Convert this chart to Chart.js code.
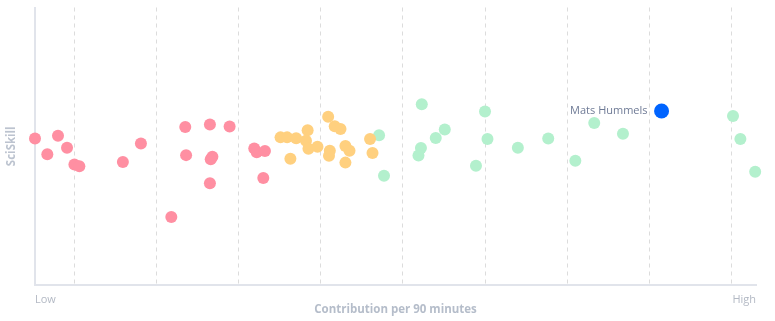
<!DOCTYPE html>
<html>
<head>
<meta charset="utf-8">
<script src="https://cdn.jsdelivr.net/npm/chart.js@4.4.1/dist/chart.umd.min.js"></script>
<style>
  html, body { margin: 0; padding: 0; background: #ffffff; }
  #wrap { width: 775px; height: 321px; position: relative; }
</style>
</head>
<body>
<div id="wrap"><canvas id="c"></canvas></div>
<script>
// ---- Data (x = contribution per 90 minutes, y = SciSkill) ----
const xTitle = 'Contribution per 90 minutes';
const yTitle = 'SciSkill';
const xTickLabels = ['Low', 'High'];
const xMin = 5.2, xMax = 93.0;
const gridValues = [10, 20, 30, 40, 50, 60, 70, 80, 90];

const lowX  = [5.2, 6.7, 8.0, 9.1, 10.0, 10.6, 15.9, 18.1, 23.5, 23.6, 26.5, 28.9, 26.8, 26.6, 26.5, 21.8, 31.9, 32.2, 33.2, 33.0];
const lowY  = [52.8, 47.1, 53.8, 49.5, 43.4, 42.8, 44.3, 51.0, 56.9, 46.8, 57.8, 57.1, 46.2, 45.3, 36.7, 24.5, 49.2, 47.8, 48.3, 38.6];

const midX  = [35.1, 35.9, 37.0, 38.4, 38.2, 38.5, 39.6, 36.3, 40.9, 41.7, 42.4, 41.1, 41.0, 43.0, 43.5, 43.0, 46.0, 46.3];
const midY  = [53.2, 53.2, 52.9, 55.8, 52.0, 49.1, 49.8, 45.5, 60.6, 57.2, 56.2, 48.4, 46.6, 50.1, 48.4, 44.1, 52.6, 47.6];

const highX = [47.1, 47.7, 52.3, 52.2, 51.9, 54.0, 55.1, 60.0, 60.3, 58.9, 64.0, 67.7, 71.0, 73.3, 76.8, 90.2, 91.1, 92.9];
const highY = [54.0, 39.4, 65.1, 49.4, 46.7, 53.0, 56.0, 62.5, 52.6, 43.0, 49.5, 52.8, 44.8, 58.4, 54.5, 60.9, 52.6, 40.8];

const playerName = 'Mats Hummels';
const playerX = [81.5];
const playerY = [62.7];

const toPts = (xs, ys) => xs.map((x, i) => ({ x: x, y: ys[i] }));

const labelPlugin = {
  id: 'playerLabel',
  afterDatasetsDraw(chart) {
    const meta = chart.getDatasetMeta(3);
    const el = meta.data[0];
    if (!el) return;
    const ctx = chart.ctx;
    ctx.save();
    ctx.font = '11px "Open Sans"';
    ctx.fillStyle = '#6f7b96';
    ctx.textAlign = 'right';
    ctx.textBaseline = 'middle';
    ctx.fillText(playerName, el.x - 14, el.y);
    ctx.restore();
  }
};

new Chart(document.getElementById('c'), {
  type: 'scatter',
  data: {
    datasets: [
      { data: toPts(lowX, lowY), backgroundColor: '#ff8fa2', pointRadius: 6, pointHoverRadius: 6, borderWidth: 0, clip: false },
      { data: toPts(midX, midY), backgroundColor: '#ffd07f', pointRadius: 6, pointHoverRadius: 6, borderWidth: 0, clip: false },
      { data: toPts(highX, highY), backgroundColor: '#b3f0cd', pointRadius: 6, pointHoverRadius: 6, borderWidth: 0, clip: false },
      { data: toPts(playerX, playerY), backgroundColor: '#0064ff', pointRadius: 7.5, pointHoverRadius: 7.5, borderWidth: 0, clip: false }
    ]
  },
  options: {
    responsive: true,
    maintainAspectRatio: false,
    animation: false,
    layout: { padding: { top: 6, right: 19, bottom: 0, left: 0 } },
    plugins: { legend: { display: false }, tooltip: { enabled: false } },
    scales: {
      x: {
        type: 'linear',
        min: xMin,
        max: xMax,
        afterBuildTicks(scale) {
          scale.ticks = [{ value: xMin }].concat(gridValues.map(v => ({ value: v })), [{ value: xMax }]);
        },
        afterFit(scale) { scale.height = 36; },
        border: { display: true, color: '#e1e4eb', width: 2, dash: [4, 4] },
        grid: {
          drawTicks: false,
          color: (ctx) => (ctx.index === 0 || ctx.index === gridValues.length + 1) ? 'rgba(0,0,0,0)' : '#dcdcdc',
          lineWidth: 1,
          tickLength: 0
        },
        ticks: {
          autoSkip: false,
          maxRotation: 0,
          align: 'inner',
          padding: 8,
          color: '#b3b9c4',
          font: { family: '"Open Sans"', size: 11 },
          callback: (v, i, ticks) => i === 0 ? xTickLabels[0] : (i === ticks.length - 1 ? xTickLabels[1] : '')
        },
        title: {
          display: true,
          text: xTitle,
          color: '#b5bdca',
          font: { family: '"Open Sans"', size: 11.5, weight: '700' },
          padding: { top: 0, bottom: 4 }
        }
      },
      y: {
        type: 'linear',
        min: 0,
        max: 100,
        afterFit(scale) { scale.width = 35; },
        border: { display: true, color: '#e1e4eb', width: 2 },
        grid: { display: false, drawTicks: false },
        ticks: { display: false },
        title: {
          display: true,
          text: yTitle,
          color: '#bcc3cf',
          font: { family: '"Open Sans"', size: 11.5, weight: '700' },
          padding: { top: 4.5, bottom: 0 }
        }
      }
    }
  },
  plugins: [labelPlugin]
});
</script>
</body>
</html>
